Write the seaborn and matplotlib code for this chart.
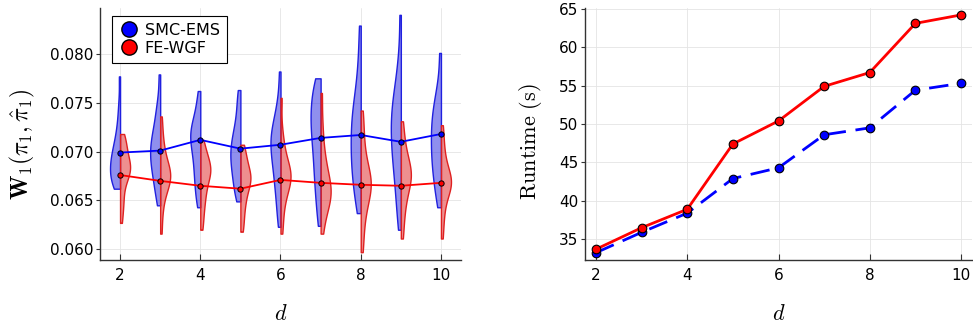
import numpy as np
import pandas as pd
import matplotlib
matplotlib.use("Agg")
import matplotlib.pyplot as plt
from matplotlib.lines import Line2D
from matplotlib.collections import PolyCollection
import seaborn as sns

# ---------------- data ----------------
dims = [2, 3, 4, 5, 6, 7, 8, 9, 10]
methods = ["SMC-EMS", "FE-WGF"]

# W1 samples per dimension (read to reproduce the violin shapes)
smc_samples = {
    2: [0.0662, 0.0664, 0.0667, 0.0670, 0.0673, 0.0676, 0.0679, 0.0682, 0.0685, 0.0688, 0.0691,
        0.0694, 0.0697, 0.0701, 0.0705, 0.0710, 0.0716, 0.0724, 0.0735, 0.0750, 0.0777],
    3: [0.0645, 0.0655, 0.0663, 0.0670, 0.0676, 0.0681, 0.0686, 0.0690, 0.0694, 0.0698, 0.0702,
        0.0706, 0.0710, 0.0714, 0.0719, 0.0725, 0.0733, 0.0742, 0.0752, 0.0779],
    4: [0.0643, 0.0652, 0.0660, 0.0667, 0.0674, 0.0680, 0.0686, 0.0692, 0.0698, 0.0703, 0.0707,
        0.0711, 0.0715, 0.0718, 0.0721, 0.0724, 0.0728, 0.0733, 0.0740, 0.0750, 0.0762],
    5: [0.0649, 0.0656, 0.0662, 0.0668, 0.0674, 0.0679, 0.0684, 0.0688, 0.0692, 0.0696, 0.0700,
        0.0704, 0.0708, 0.0712, 0.0717, 0.0723, 0.0730, 0.0740, 0.0752, 0.0763],
    6: [0.0623, 0.0636, 0.0648, 0.0658, 0.0666, 0.0673, 0.0680, 0.0686, 0.0692, 0.0697, 0.0702,
        0.0706, 0.0710, 0.0714, 0.0718, 0.0722, 0.0727, 0.0733, 0.0742, 0.0755, 0.0782],
    7: [0.0624, 0.0638, 0.0650, 0.0660, 0.0668, 0.0676, 0.0684, 0.0691, 0.0698, 0.0705, 0.0711,
        0.0717, 0.0722, 0.0727, 0.0732, 0.0737, 0.0742, 0.0747, 0.0752, 0.0758, 0.0764, 0.0770, 0.0775],
    8: [0.0637, 0.0648, 0.0658, 0.0666, 0.0673, 0.0680, 0.0686, 0.0692, 0.0698, 0.0704, 0.0710,
        0.0716, 0.0722, 0.0728, 0.0734, 0.0740, 0.0747, 0.0755, 0.0765, 0.0780, 0.0800, 0.0829],
    9: [0.0620, 0.0636, 0.0650, 0.0662, 0.0672, 0.0681, 0.0689, 0.0696, 0.0703, 0.0709, 0.0715,
        0.0721, 0.0727, 0.0733, 0.0739, 0.0745, 0.0751, 0.0758, 0.0767, 0.0780, 0.0800, 0.0840],
    10: [0.0643, 0.0655, 0.0665, 0.0673, 0.0680, 0.0687, 0.0693, 0.0699, 0.0705, 0.0711, 0.0717,
         0.0723, 0.0729, 0.0735, 0.0741, 0.0748, 0.0757, 0.0770, 0.0801],
}
fewgf_samples = {
    2: [0.0627, 0.0640, 0.0648, 0.0656, 0.0665, 0.0671, 0.0675, 0.0678, 0.0680, 0.0682, 0.0684,
        0.0686, 0.0689, 0.0692, 0.0696, 0.0700, 0.0705, 0.0710, 0.0714, 0.0718],
    3: [0.0616, 0.0635, 0.0648, 0.0656, 0.0662, 0.0666, 0.0669, 0.0672, 0.0674, 0.0676, 0.0678,
        0.0681, 0.0684, 0.0688, 0.0693, 0.0700, 0.0708, 0.0720, 0.0736],
    4: [0.0620, 0.0632, 0.0642, 0.0650, 0.0656, 0.0662, 0.0668, 0.0672, 0.0676, 0.0679, 0.0681,
        0.0683, 0.0686, 0.0689, 0.0693, 0.0698, 0.0704, 0.0712],
    5: [0.0618, 0.0628, 0.0638, 0.0646, 0.0652, 0.0658, 0.0663, 0.0667, 0.0670, 0.0672, 0.0674,
        0.0677, 0.0680, 0.0684, 0.0689, 0.0695, 0.0701, 0.0707],
    6: [0.0616, 0.0632, 0.0645, 0.0654, 0.0660, 0.0665, 0.0669, 0.0672, 0.0674, 0.0676, 0.0678,
        0.0681, 0.0685, 0.0690, 0.0697, 0.0706, 0.0720, 0.0755],
    7: [0.0616, 0.0630, 0.0640, 0.0646, 0.0650, 0.0653, 0.0656, 0.0659, 0.0662, 0.0666, 0.0670,
        0.0675, 0.0681, 0.0688, 0.0697, 0.0710, 0.0730, 0.0760],
    8: [0.0597, 0.0615, 0.0630, 0.0640, 0.0648, 0.0654, 0.0659, 0.0663, 0.0666, 0.0669, 0.0672,
        0.0676, 0.0681, 0.0688, 0.0697, 0.0710, 0.0725, 0.0742],
    9: [0.0611, 0.0628, 0.0640, 0.0650, 0.0657, 0.0663, 0.0668, 0.0672, 0.0675, 0.0678, 0.0681,
        0.0685, 0.0690, 0.0696, 0.0704, 0.0715, 0.0731],
    10: [0.0611, 0.0628, 0.0640, 0.0650, 0.0657, 0.0662, 0.0665, 0.0667, 0.0669, 0.0671, 0.0674,
         0.0678, 0.0683, 0.0690, 0.0700, 0.0712, 0.0727],
}

# mean W1 markers
smc_mean = [0.0699, 0.0701, 0.0712, 0.0703, 0.0707, 0.0714, 0.0717, 0.0710, 0.0718]
fewgf_mean = [0.0676, 0.0670, 0.0665, 0.0662, 0.0671, 0.0668, 0.0666, 0.0665, 0.0668]

# runtimes (s)
smc_runtime = [33.25, 35.9, 38.4, 42.9, 44.3, 48.6, 49.5, 54.4, 55.3]
fewgf_runtime = [33.7, 36.5, 38.9, 47.4, 50.4, 54.9, 56.7, 63.1, 64.2]

y_ticks_left = [0.060, 0.065, 0.070, 0.075, 0.080]
y_ticks_right = [35, 40, 45, 50, 55, 60, 65]
x_ticks = [2, 4, 6, 8, 10]

# ---------------- figure ----------------
sns.set_theme(style="white")
plt.rcParams["font.family"] = ["DejaVu Sans"]
plt.rcParams["mathtext.fontset"] = "cm"
plt.rcParams["text.color"] = "black"
plt.rcParams["axes.labelcolor"] = "black"

colors = {"SMC-EMS": (0.0, 0.0, 1.0), "FE-WGF": (1.0, 0.0, 0.0)}

rows = []
for d in dims:
    for v in smc_samples[d]:
        rows.append({"d": d, "w": v, "method": "SMC-EMS"})
    for v in fewgf_samples[d]:
        rows.append({"d": d, "w": v, "method": "FE-WGF"})
df = pd.DataFrame(rows)

fig = plt.figure(figsize=(9.73, 3.26), dpi=100)
ax1 = fig.add_axes([100 / 973, 66 / 326, 361 / 973, 252 / 326])
ax2 = fig.add_axes([585 / 973, 66 / 326, 387 / 973, 252 / 326])

sns.violinplot(data=df, x="d", y="w", hue="method", hue_order=methods, split=True,
               native_scale=True, cut=0, inner=None, density_norm="width", width=0.5,
               palette=colors, linewidth=1.0, bw_adjust=0.75, gap=0, legend=False, ax=ax1)

for coll in ax1.collections:
    if isinstance(coll, PolyCollection):
        fc = coll.get_facecolor()
        if len(fc):
            r, g, b, _ = fc[0]
            coll.set_facecolor((r, g, b, 0.5))
            coll.set_edgecolor((r, g, b, 1.0))
            coll.set_linewidth(1.0)

sns.lineplot(x=dims, y=smc_mean, ax=ax1, color="blue", linewidth=1.3, marker="o",
             markersize=3.8, markeredgecolor="black", markeredgewidth=0.7, zorder=5)
sns.lineplot(x=dims, y=fewgf_mean, ax=ax1, color="red", linewidth=1.3, marker="o",
             markersize=3.8, markeredgecolor="black", markeredgewidth=0.7, zorder=5)

ax1.set_xlim(1.5, 10.5)
ax1.set_ylim(0.0589, 0.0847)
ax1.set_xticks(x_ticks)
ax1.set_yticks(y_ticks_left)
ax1.set_yticklabels([f"{t:.3f}" for t in y_ticks_left])
ax1.set_xlabel(r"$d$", fontsize=16, labelpad=15)
ax1.set_ylabel(r"$\mathbf{W}_1(\pi_1, \hat{\pi}_1)$", fontsize=17, labelpad=8)
ax1.yaxis.set_label_coords(-0.175, 0.46)

handles = [Line2D([], [], linestyle="none", marker="o", markersize=11,
                  markerfacecolor=colors[m], markeredgecolor="black", markeredgewidth=1.0)
           for m in methods]
leg = ax1.legend(handles, methods, loc="upper left", bbox_to_anchor=(0.033, 0.97),
                 fontsize=11.5, frameon=True, fancybox=False, edgecolor="black",
                 framealpha=1.0, handletextpad=0.3, borderpad=0.45, labelspacing=0.2,
                 handlelength=1.3, borderaxespad=0.0)
leg.get_frame().set_linewidth(0.8)

# right panel
sns.lineplot(x=dims, y=smc_runtime, ax=ax2, color="blue", linewidth=2, linestyle="--",
             marker="o", markersize=6.2, markeredgecolor="black", markeredgewidth=0.8)
ax2.lines[-1].set_dashes((7, 3.5))
sns.lineplot(x=dims, y=fewgf_runtime, ax=ax2, color="red", linewidth=2,
             marker="o", markersize=6.2, markeredgecolor="black", markeredgewidth=0.8)
ax2.set_xlim(1.76, 10.24)
ax2.set_ylim(32.3, 65.1)
ax2.set_xticks(x_ticks)
ax2.set_yticks(y_ticks_right)
ax2.set_xlabel(r"$d$", fontsize=16, labelpad=15)
ax2.set_ylabel(r"$\mathrm{Runtime\ (s)}$", fontsize=16, labelpad=12)
ax2.yaxis.set_label_coords(-0.107, 0.47)

for ax in (ax1, ax2):
    ax.grid(True, color="#e4e4e4", linewidth=0.6)
    ax.set_axisbelow(True)
    for s in ("top", "right"):
        ax.spines[s].set_visible(False)
    for s in ("left", "bottom"):
        ax.spines[s].set_color("#333333")
        ax.spines[s].set_linewidth(1.0)
    ax.tick_params(axis="x", direction="in", length=4, width=0.8, color="#333333",
                   labelsize=11, pad=6, bottom=True, labelcolor="black")
    ax.tick_params(axis="y", direction="out", length=3, width=0.8, color="#333333",
                   labelsize=11, pad=2, left=True, labelcolor="black")

fig.savefig("out.png", dpi=100)
